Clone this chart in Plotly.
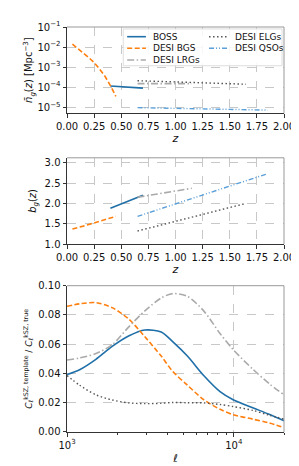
import plotly.graph_objects as go
import numpy as np

# ---------- data ----------
# Panel 1: number density n_g(z)
boss_z = [0.40, 0.55, 0.70]
boss_n = [1.15e-4, 1.02e-4, 9.0e-5]
bgs_z = [0.05, 0.10, 0.15, 0.20, 0.25, 0.30, 0.35, 0.40, 0.45]
bgs_n = [1.4e-2, 8.0e-3, 5.0e-3, 3.0e-3, 1.7e-3, 8.0e-4, 3.5e-4, 1.2e-4, 3.5e-5]
lrg_z = [0.65, 0.90, 1.15]
lrg_n = [1.5e-4, 1.52e-4, 1.5e-4]
elg_z = [0.65, 1.15, 1.65]
elg_n = [2.1e-4, 1.75e-4, 1.4e-4]
qso_z = [0.65, 1.25, 1.85]
qso_n = [9.5e-6, 8.2e-6, 7.2e-6]

# Panel 2: bias b_g(z)
boss_b = [1.88, 2.04, 2.20]
bgs_b = [1.37, 1.40, 1.44, 1.48, 1.52, 1.56, 1.60, 1.64, 1.68]
lrg_b = [2.15, 2.26, 2.37]
elg_b = [1.32, 1.66, 2.00]
qso_b = [1.68, 2.20, 2.73]

# Panel 3: template / true ratio vs ell
ell = [1000, 1190, 1490, 1865, 2340, 2930, 3670, 4300, 5270, 6600, 8270, 9910, 12990, 16280, 20000]
boss_r = [0.0393, 0.0426, 0.0497, 0.0585, 0.0656, 0.0697, 0.0684, 0.0618, 0.0519, 0.0386,
          0.0276, 0.0221, 0.0166, 0.0121, 0.0077]
bgs_r = [0.0859, 0.0876, 0.0884, 0.0850, 0.0773, 0.0651, 0.0519, 0.0415, 0.0320, 0.0221,
         0.0155, 0.0118, 0.0088, 0.0062, 0.0030]
lrg_r = [0.0492, 0.0506, 0.0536, 0.0596, 0.0717, 0.0828, 0.0916, 0.0946, 0.0927, 0.0828,
         0.0673, 0.0563, 0.0430, 0.0331, 0.0254]
elg_r = [0.0386, 0.0320, 0.0254, 0.0219, 0.0199, 0.0194, 0.0196, 0.0202, 0.0200, 0.0199,
         0.0188, 0.0174, 0.0148, 0.0115, 0.0088]

# ---------- styles ----------
C_BOSS = "#1f6fa8"
C_BGS = "#ff7f0e"
C_LRG = "#aaaaaa"
C_ELG = "#555555"
C_QSO = "#5b9fd8"
D_BGS = "5px,2.5px"
D_LRG = "7px,2.5px,1.5px,2.5px"
D_ELG = "1.5px,2.5px"
D_QSO = "5px,2px,1px,2px,1px,2px"
FONT = "DejaVu Sans"

W, H = 299, 466
ML, MR, MT, MB = 59, 20, 15, 33
PW = W - ML - MR
PH = H - MT - MB


def dom(top_px, bot_px):
    return [(H - MB - bot_px) / PH, (H - MB - top_px) / PH]


def px_x(px):
    return (px - ML) / PW


def px_y(py):
    return (H - MB - py) / PH


fig = go.Figure()

series = [
    ("BOSS", boss_z, boss_n, boss_b, boss_r, C_BOSS, "solid", 1.6),
    ("DESI BGS", bgs_z, bgs_n, bgs_b, bgs_r, C_BGS, D_BGS, 1.6),
    ("DESI LRGs", lrg_z, lrg_n, lrg_b, lrg_r, C_LRG, D_LRG, 1.6),
    ("DESI ELGs", elg_z, elg_n, elg_b, elg_r, C_ELG, D_ELG, 1.4),
    ("DESI QSOs", qso_z, qso_n, qso_b, None, C_QSO, D_QSO, 1.4),
]

for name, z, n, b, r, col, dash, w in series:
    line = dict(color=col, dash=dash, width=w)
    fig.add_trace(go.Scatter(x=z, y=n, mode="lines", name=name, line=line,
                             xaxis="x", yaxis="y", showlegend=False))
    fig.add_trace(go.Scatter(x=z, y=b, mode="lines", name=name, line=line,
                             xaxis="x2", yaxis="y2", showlegend=False))
    if r is not None:
        fig.add_trace(go.Scatter(x=ell, y=r, mode="lines", name=name,
                                 line=dict(color=col, dash=dash, width=w, shape="spline",
                                           smoothing=0.8),
                                 xaxis="x3", yaxis="y3", showlegend=False))

axcommon = dict(showline=True, linecolor="#333333", linewidth=1, mirror=False,
                ticks="outside", ticklen=3.5, tickcolor="#333333",
                showgrid=True, gridcolor="#c8c8c8", griddash="dash", gridwidth=0.8,
                zeroline=False, tickfont=dict(size=10, color="#111"))

zticks = [0, 0.25, 0.5, 0.75, 1.0, 1.25, 1.5, 1.75, 2.0]

fig.update_layout(
    width=W, height=H,
    margin=dict(l=ML, r=MR, t=MT, b=MB),
    paper_bgcolor="white", plot_bgcolor="white",
    font=dict(family=FONT, size=10, color="#111"),
    showlegend=False,
    xaxis=dict(axcommon, domain=[0, 1], range=[0, 2], tickvals=zticks, tickformat=".2f",
               anchor="y", title=dict(text="<i>z</i>", standoff=2, font=dict(size=11))),
    yaxis=dict(axcommon, domain=dom(15, 104), type="log", range=[-5.3, -1],
               tickvals=[1e-5, 1e-4, 1e-3, 1e-2, 1e-1],
               ticktext=["10<sup>−5</sup>", "10<sup>−4</sup>", "10<sup>−3</sup>",
                         "10<sup>−2</sup>", "10<sup>−1</sup>"],
               anchor="x",
               title=dict(text="<i>n̄<sub>g</sub></i>(<i>z</i>) [Mpc<sup>−3</sup>]",
                          standoff=2, font=dict(size=10))),
    xaxis2=dict(axcommon, domain=[0, 1], range=[0, 2], tickvals=zticks, tickformat=".2f",
                anchor="y2", title=dict(text="<i>z</i>", standoff=2, font=dict(size=11))),
    yaxis2=dict(axcommon, domain=dom(150, 239), range=[1.0, 3.12],
                tickvals=[1.0, 1.5, 2.0, 2.5, 3.0], tickformat=".1f", anchor="x2",
                title=dict(text="<i>b<sub>g</sub></i>(<i>z</i>)", standoff=6, font=dict(size=10))),
    xaxis3=dict(axcommon, domain=[0, 1], type="log", range=[3, np.log10(20000)],
                tickvals=[1000, 10000], ticktext=["10<sup>3</sup>", "10<sup>4</sup>"],
                minor=dict(tickvals=[2000, 3000, 4000, 5000, 6000, 7000, 8000, 9000, 20000],
                           ticks="outside", ticklen=2, tickcolor="#333333", showgrid=False),
                anchor="y3", title=dict(text="<i>ℓ</i>", standoff=4, font=dict(size=11))),
    yaxis3=dict(axcommon, domain=dom(282, 433), range=[0, 0.1],
                tickvals=[0, 0.02, 0.04, 0.06, 0.08, 0.1], tickformat=".2f", anchor="x3",
                title=dict(text="<i>C<sub>ℓ</sub></i><sup>kSZ, template</sup> / "
                                "<i>C<sub>ℓ</sub></i><sup>kSZ, true</sup>",
                           standoff=4, font=dict(size=9))),
)

# light top/right frame lines
for xa, ya in [("x", "y"), ("x2", "y2"), ("x3", "y3")]:
    fig.add_shape(type="line", xref=f"{xa} domain", yref=f"{ya} domain",
                  x0=0, x1=1, y0=1, y1=1, line=dict(color="#999999", width=1))
    fig.add_shape(type="line", xref=f"{xa} domain", yref=f"{ya} domain",
                  x0=1, x1=1, y0=0, y1=1, line=dict(color="#999999", width=1))

# ---------- manual two-column legend (matplotlib style) ----------
fig.add_shape(type="rect", xref="paper", yref="paper",
              x0=px_x(116), x1=px_x(277), y0=px_y(55), y1=px_y(17),
              line=dict(color="#dddddd", width=1), fillcolor="rgba(255,255,255,0.85)",
              layer="above")
slots = [(120, 25), (120, 37), (120, 49), (203, 25), (203, 37)]
for (name, z, n, b, r, col, dash, w), (hx, hy) in zip(series, slots):
    fig.add_shape(type="line", xref="paper", yref="paper",
                  x0=px_x(hx), x1=px_x(hx + 19), y0=px_y(hy), y1=px_y(hy),
                  line=dict(color=col, dash=dash, width=w), layer="above")
    fig.add_annotation(xref="paper", yref="paper", x=px_x(hx + 24), y=px_y(hy),
                       text=name, showarrow=False, xanchor="left", yanchor="middle",
                       font=dict(size=9, color="#111"))

fig.write_html("out.html")
